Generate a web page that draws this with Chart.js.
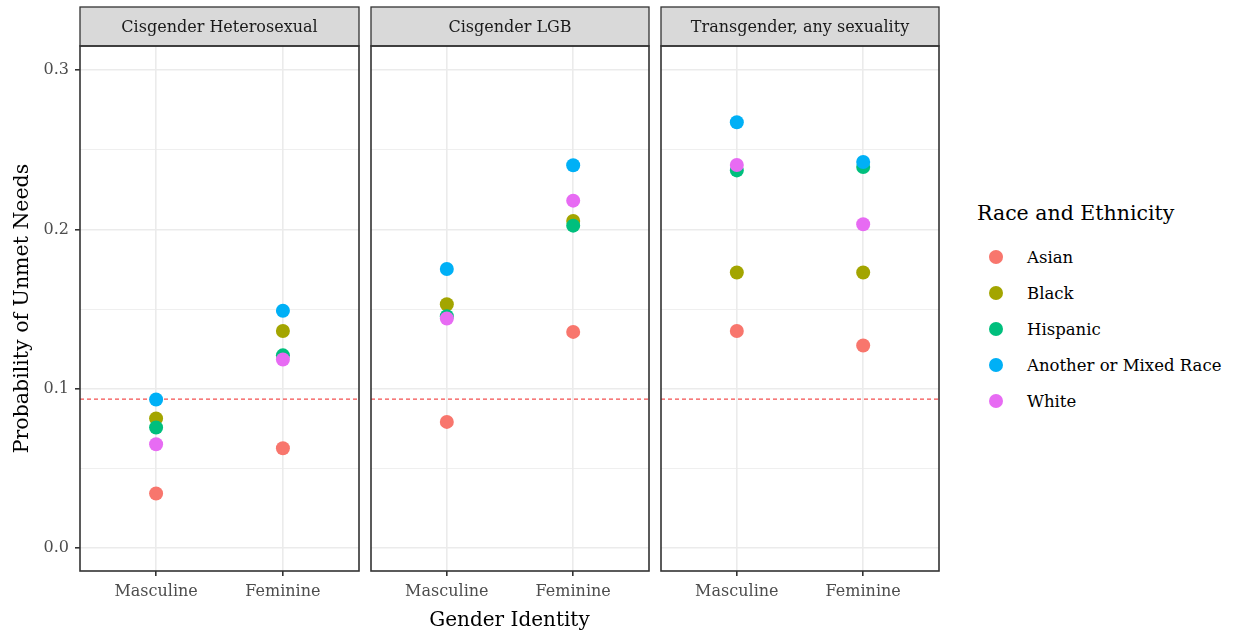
<!DOCTYPE html>
<html>
<head>
<meta charset="utf-8">
<script src="https://cdn.jsdelivr.net/npm/chart.js@4.4.1/dist/chart.umd.min.js"></script>
<style>
  body { margin: 0; background: #fff; width: 1236px; height: 634px; position: relative; overflow: hidden; font-family: "DejaVu Serif", serif; }
  canvas { position: absolute; top: 0; }
  .xtitle { position: absolute; top: 607px; left: 80px; width: 859px; text-align: center; font-size: 20px; color: #000; }
  .legend { position: absolute; left: 977px; top: 201px; color: #000; }
  .legend .ttl { font-size: 20.5px; margin-bottom: 14px; }
  .legend .item { height: 36px; display: flex; align-items: center; font-size: 16.5px; }
  .legend .dot { width: 14px; height: 14px; border-radius: 50%; margin-left: 12px; margin-right: 24px; }
</style>
</head>
<body>
<canvas id="p0" width="366" height="634" style="left:0px"></canvas>
<canvas id="p1" width="292" height="634" style="left:364px"></canvas>
<canvas id="p2" width="292" height="634" style="left:654px"></canvas>
<div class="xtitle">Gender Identity</div>
<div class="legend" id="legend"></div>
<script>
// facets and categories
const panels = ['Cisgender Heterosexual', 'Cisgender LGB', 'Transgender, any sexuality'];
const genders = ['Masculine', 'Feminine'];
const races = ['Asian', 'Black', 'Hispanic', 'Another or Mixed Race', 'White'];
const raceColors = ['#F8766D', '#A3A500', '#00BF7D', '#00B0F6', '#E76BF3'];

// values per race: [het masc, het fem, LGB masc, LGB fem, trans masc, trans fem]
const asian    = [0.0343, 0.0627, 0.0792, 0.1357, 0.1363, 0.1272];
const black    = [0.0814, 0.1363, 0.1531, 0.2053, 0.1730, 0.1730];
const hispanic = [0.0757, 0.1210, 0.1455, 0.2024, 0.2371, 0.2392];
const another  = [0.0933, 0.1490, 0.1752, 0.2403, 0.2673, 0.2424];
const white    = [0.0652, 0.1184, 0.1441, 0.2181, 0.2405, 0.2033];
const raceValues = [asian, black, hispanic, another, white];

const overallRate = 0.0935;
const majorTicks = [0, 0.1, 0.2, 0.3];
const minorTicks = [0.05, 0.15, 0.25];
const yTickLabels = ['0.0', '0.1', '0.2', '0.3'];

const isMinor = v => minorTicks.some(m => Math.abs(m - v) < 1e-9);

const stripPlugin = {
  id: 'facetStrip',
  beforeDatasetsDraw(chart) {
    const { ctx, chartArea: a, scales: { y } } = chart;
    const py = y.getPixelForValue(overallRate);
    ctx.save();
    ctx.strokeStyle = 'rgba(242,70,70,0.95)';
    ctx.lineWidth = 1.2;
    ctx.setLineDash([4, 3]);
    ctx.beginPath();
    ctx.moveTo(a.left, py);
    ctx.lineTo(a.right, py);
    ctx.stroke();
    ctx.restore();
  },
  afterDraw(chart, args, opts) {
    const { ctx, chartArea: a } = chart;
    ctx.save();
    ctx.fillStyle = '#D9D9D9';
    ctx.fillRect(a.left, 7, a.right - a.left, a.top - 7);
    ctx.strokeStyle = '#333333';
    ctx.lineWidth = 1.3;
    ctx.strokeRect(a.left, 7, a.right - a.left, a.top - 7);
    ctx.lineWidth = 1.6;
    ctx.strokeRect(a.left, a.top, a.right - a.left, a.bottom - a.top);
    ctx.fillStyle = '#1A1A1A';
    ctx.font = '16px "DejaVu Serif"';
    ctx.textAlign = 'center';
    ctx.textBaseline = 'middle';
    ctx.fillText(opts.label, (a.left + a.right) / 2, (7 + a.top) / 2 + 1);
    ctx.restore();
  }
};

function makePanel(idx) {
  const first = idx === 0;
  const datasets = races.map((race, r) => ({
    label: race,
    data: genders.map((g, gi) => ({ x: gi + 1, y: raceValues[r][idx * 2 + gi] })),
    backgroundColor: raceColors[r],
    borderWidth: 0,
    pointRadius: 7,
    pointHoverRadius: 7,
    order: races.length - 1 - r
  }));

  new Chart(document.getElementById('p' + idx), {
    type: 'scatter',
    data: { datasets },
    plugins: [stripPlugin],
    options: {
      responsive: false,
      animation: false,
      devicePixelRatio: 1,
      layout: { padding: { top: 46, left: first ? 0 : 3, right: first ? 2 : 3, bottom: 0 } },
      plugins: {
        legend: { display: false },
        tooltip: { enabled: false },
        facetStrip: { label: panels[idx] }
      },
      scales: {
        x: {
          type: 'linear',
          min: 0.4,
          max: 2.6,
          afterBuildTicks: s => { s.ticks = genders.map((g, i) => ({ value: i + 1 })); },
          afterFit: s => { s.height = 63; },
          border: { display: false },
          grid: { color: '#EBEBEB', lineWidth: 1.6, tickColor: '#333333', tickLength: 5 },
          ticks: {
            padding: 6,
            color: '#4D4D4D',
            font: { family: 'DejaVu Serif', size: 16 },
            callback: v => genders[v - 1]
          }
        },
        y: {
          min: -0.0144,
          max: 0.3152,
          afterBuildTicks: s => {
            s.ticks = majorTicks.concat(minorTicks).sort((a, b) => a - b).map(v => ({ value: v }));
          },
          afterFit: s => { s.width = first ? 80 : 0; },
          border: { display: false },
          title: {
            display: first,
            text: 'Probability of Unmet Needs',
            color: '#000',
            font: { family: 'DejaVu Serif', size: 20.5 },
            padding: { top: 10, bottom: 0 }
          },
          grid: {
            color: '#EBEBEB',
            lineWidth: c => (isMinor(c.tick.value) ? 0.8 : 1.6),
            drawTicks: first,
            tickLength: 5,
            tickColor: c => (isMinor(c.tick.value) ? 'rgba(0,0,0,0)' : '#333333')
          },
          ticks: {
            display: first,
            padding: 6,
            color: '#4D4D4D',
            font: { family: 'DejaVu Serif', size: 16 },
            callback: v => {
              const i = majorTicks.findIndex(m => Math.abs(m - v) < 1e-9);
              return i >= 0 ? yTickLabels[i] : '';
            }
          }
        }
      }
    }
  });
}

panels.forEach((p, i) => makePanel(i));

const legend = document.getElementById('legend');
legend.innerHTML = '<div class="ttl">Race and Ethnicity</div>' + races.map((r, i) =>
  `<div class="item"><span class="dot" style="background:${raceColors[i]}"></span>${r}</div>`).join('');
</script>
</body>
</html>
